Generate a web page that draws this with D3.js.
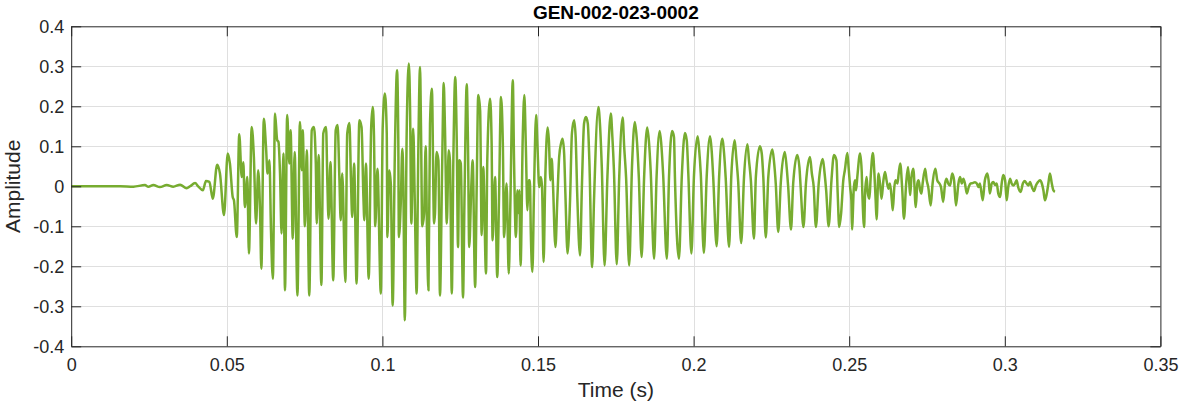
<!DOCTYPE html>
<html>
<head>
<meta charset="utf-8">
<script src="https://cdn.jsdelivr.net/npm/d3@7/dist/d3.min.js"></script>
<style>
  html, body { margin: 0; padding: 0; background: #ffffff; }
  svg { display: block; font-family: "Liberation Sans", Arial, Helvetica, sans-serif; }
</style>
</head>
<body>
<svg id="chart" width="1182" height="404"></svg>
<script>
// ---- data ----
const chartTitle = "GEN-002-023-0002";
const xLabel = "Time (s)";
const yLabel = "Amplitude";
const xTicks = [0, 0.05, 0.1, 0.15, 0.2, 0.25, 0.3, 0.35];
const xTickLabels = ["0", "0.05", "0.1", "0.15", "0.2", "0.25", "0.3", "0.35"];
const yTicks = [-0.4, -0.3, -0.2, -0.1, 0, 0.1, 0.2, 0.3, 0.4];
const yTickLabels = ["-0.4", "-0.3", "-0.2", "-0.1", "0", "0.1", "0.2", "0.3", "0.4"];

// waveform: time (s) and amplitude, traced peak by peak
const time = [
  0, 0.0157, 0.0200, 0.0237, 0.0248, 0.0264, 0.0285, 0.0307, 0.0328, 0.0350, 0.0371, 0.0382,
  0.0398, 0.0408, 0.0423, 0.0433, 0.0444, 0.0455, 0.0469, 0.0478, 0.0491, 0.0503, 0.0510, 0.0519, 0.0523, 0.0532,
  0.0540, 0.0548, 0.0553, 0.0558, 0.0566, 0.0571, 0.0580, 0.0587, 0.0594, 0.0601, 0.0607, 0.0611, 0.0619, 0.0626,
  0.0631, 0.0637, 0.0642, 0.0648, 0.0655,
  0.0662, 0.0666, 0.0671, 0.0676, 0.0682, 0.0687, 0.0694, 0.0701, 0.0705, 0.0712, 0.0718, 0.0727, 0.0735, 0.0741,
  0.0744, 0.0751, 0.0757, 0.0765, 0.0773, 0.0780, 0.0786, 0.0789, 0.0795, 0.0804, 0.0810, 0.0819, 0.0823, 0.0827,
  0.0833, 0.0842, 0.0850, 0.0856, 0.0862, 0.0866, 0.0871, 0.0881, 0.0887, 0.0894, 0.0899, 0.0903, 0.0909,
  0.0917, 0.0926, 0.0933, 0.0939, 0.0942, 0.0947, 0.0956, 0.0964, 0.0969, 0.0973, 0.0977, 0.0984, 0.0995, 0.1001,
  0.1008, 0.1014, 0.1016, 0.1022, 0.1027, 0.1033, 0.1040, 0.1047, 0.1051, 0.1053, 0.1059, 0.1064, 0.1067, 0.1072,
  0.1078, 0.1085, 0.1089, 0.1093, 0.1099, 0.1104, 0.1110, 0.1115, 0.1121, 0.1124, 0.1128, 0.1134, 0.1139, 0.1144,
  0.1148, 0.1153, 0.1159, 0.1166,
  0.1169, 0.1174, 0.1180, 0.1185, 0.1192, 0.1197, 0.1201, 0.1207, 0.1213, 0.1217, 0.1223, 0.1228, 0.1234, 0.1239,
  0.1243, 0.1247, 0.1252, 0.1259, 0.1264, 0.1271, 0.1275, 0.1279, 0.1286, 0.1290, 0.1298, 0.1303, 0.1308, 0.1314,
  0.1319, 0.1324, 0.1333, 0.1337, 0.1346, 0.1351, 0.1354, 0.1362, 0.1369, 0.1375, 0.1381, 0.1387, 0.1391, 0.1399,
  0.1406, 0.1411, 0.1419,
  0.1423, 0.1429, 0.1434, 0.1438, 0.1440, 0.1444, 0.1451, 0.1456, 0.1461, 0.1466, 0.1470, 0.1474, 0.1477, 0.1482,
  0.1487, 0.1494, 0.1498, 0.1504, 0.1509, 0.1513, 0.1518, 0.1523, 0.1531, 0.1535, 0.1540, 0.1544, 0.1548, 0.1556,
  0.1562, 0.1568, 0.1574, 0.1579, 0.1584, 0.1588, 0.1595, 0.1603, 0.1609, 0.1616, 0.1621, 0.1626, 0.1635, 0.1641,
  0.1648, 0.1654, 0.1660, 0.1665, 0.1674, 0.1680,
  0.1694, 0.1699, 0.1705, 0.1714, 0.1723, 0.1734, 0.1739, 0.1744, 0.1753, 0.1761, 0.1772, 0.1777, 0.1783, 0.1793,
  0.1802, 0.1811, 0.1817, 0.1824, 0.1833, 0.1841, 0.1851, 0.1857, 0.1862, 0.1873, 0.1881, 0.1891, 0.1896, 0.1902,
  0.1914, 0.1921, 0.1931, 0.1937,
  0.1940, 0.1953, 0.1962, 0.1972, 0.1978, 0.1983, 0.1993, 0.2001, 0.2013, 0.2018, 0.2023, 0.2033, 0.2042, 0.2053,
  0.2058, 0.2063, 0.2074, 0.2082, 0.2092, 0.2098, 0.2103, 0.2114, 0.2121, 0.2132, 0.2137, 0.2143, 0.2153, 0.2162,
  0.2173, 0.2178, 0.2184, 0.2194,
  0.2200, 0.2213, 0.2219, 0.2224, 0.2232, 0.2240, 0.2253, 0.2258, 0.2264, 0.2272, 0.2280, 0.2293, 0.2299, 0.2304,
  0.2313, 0.2320, 0.2333, 0.2340, 0.2344, 0.2353, 0.2361, 0.2374, 0.2380, 0.2386, 0.2393, 0.2402, 0.2415, 0.2421,
  0.2426, 0.2434, 0.2443, 0.2451, 0.2459,
  0.2463, 0.2468, 0.2474, 0.2481, 0.2486, 0.2494, 0.2498, 0.2503, 0.2507, 0.2509, 0.2515, 0.2519, 0.2522, 0.2526,
  0.2535, 0.2540, 0.2543, 0.2548, 0.2551, 0.2556, 0.2560, 0.2565, 0.2569, 0.2576, 0.2581, 0.2585, 0.2588, 0.2594,
  0.2599, 0.2604, 0.2610, 0.2615, 0.2620, 0.2626, 0.2631, 0.2637, 0.2640, 0.2645, 0.2649, 0.2655, 0.2659, 0.2664,
  0.2670, 0.2676, 0.2683, 0.2689, 0.2693, 0.2696, 0.2700, 0.2706,
  0.2714, 0.2719, 0.2723, 0.2728, 0.2732, 0.2736, 0.2744, 0.2749, 0.2754, 0.2762, 0.2768, 0.2777, 0.2783, 0.2790,
  0.2795, 0.2802, 0.2808, 0.2813, 0.2818, 0.2824, 0.2831, 0.2837, 0.2843, 0.2851, 0.2856, 0.2862, 0.2867, 0.2872,
  0.2878, 0.2884, 0.2890, 0.2897, 0.2904, 0.2910, 0.2916, 0.2920, 0.2929, 0.2936, 0.2944, 0.2948, 0.2952, 0.2958,
  0.2963, 0.2969, 0.2974, 0.2979, 0.2985, 0.2990, 0.2995, 0.3001, 0.3006, 0.3011, 0.3017, 0.3022, 0.3027, 0.3033,
  0.3038, 0.3043, 0.3051, 0.3058, 0.3064, 0.3070, 0.3076, 0.3081, 0.3087, 0.3094, 0.3100, 0.3107, 0.3113, 0.3119,
  0.3124, 0.3129, 0.3135, 0.3140, 0.3145, 0.3151, 0.3156, 0.3161
];
const amplitude = [
  0, 0, -0.001, 0.003, -0.001, 0.003, -0.002, 0.003, -0.001, 0.004, -0.005, 0,
  0.008, 0.0, -0.010, 0.013, 0.011, -0.031, 0.054, 0.032, -0.072, 0.082, 0.057, -0.027, -0.035, -0.127,
  0.130, 0.023, 0.060, -0.052, 0.023, -0.168, 0.148, 0.073, -0.093, 0.040, -0.068, -0.206, 0.169, 0.098,
  0.032, 0.065, -0.110, -0.231, 0.182,
  0.115, 0.111, 0.032, -0.118, 0.082, -0.260, 0.178, 0.057, 0.140, -0.131, 0.086, -0.273, 0.161, 0.040,
  0.140, -0.100, 0.090, -0.273, 0.140, 0.148, 0.057, -0.093, 0.078, -0.247, 0.132, 0.148, 0.015, -0.081,
  0.061, -0.235, 0.140, 0.153, 0.015, -0.085, 0.032, -0.239, 0.132, 0.158, 0.015, -0.077, 0.057,
  -0.243, 0.165, 0.148, -0.027, -0.085, 0.057, -0.231, 0.148, 0.198, 0.123, -0.100, 0.044, -0.268, 0.148,
  0.232, 0.132, -0.127, 0.040, 0.007, -0.298, 0.082, 0.290, 0.123, -0.127, -0.043, 0.094, 0.023, -0.335,
  0.132, 0.307, 0.190, -0.093, 0.144, -0.035, -0.268, 0.065, 0.298, 0.148, -0.100, -0.068, 0.100, -0.152,
  -0.260, 0.157, 0.244, -0.093,
  -0.068, 0.086, 0.065, -0.273, 0.048, 0.258, 0.148, -0.093, 0.090, 0.065, -0.268, 0.065, 0.273, 0.107,
  -0.152, 0.065, 0.057, -0.278, -0.018, 0.255, 0.107, -0.152, 0.007, 0.065, -0.252, -0.002, 0.228, 0.190,
  -0.122, 0.048, -0.218, 0.065, 0.219, 0.107, -0.135, 0.023, -0.227, -0.018, 0.223, 0.107, -0.127, 0.007,
  -0.218, -0.052, 0.265,
  0.065, -0.127, -0.010, -0.068, -0.010, -0.198, 0.123, 0.228, 0.098, -0.060, 0.015, 0.015, -0.118, -0.214,
  -0.018, 0.178, 0.107, -0.002, 0.023, -0.002, -0.189, 0.007, 0.147, 0.115, 0.015, 0.069, 0.007, -0.152,
  -0.035, 0.073, 0.107, 0.119, 0.082, -0.018, -0.168, -0.035, 0.132, 0.165, 0.123, -0.018, -0.173, -0.002,
  0.157, 0.173, 0.157, 0.065, -0.202, -0.035,
  0.198, 0.157, 0.048, -0.198, 0.023, 0.182, 0.123, 0.040, -0.195, 0.023, 0.172, 0.098, 0.023, -0.198,
  0.048, 0.161, 0.123, 0.023, -0.177, 0.023, 0.147, 0.107, 0.040, -0.181, 0.023, 0.138, 0.107, 0.032,
  -0.181, 0.023, 0.138, 0.123,
  0.023, -0.181, 0.023, 0.133, 0.115, 0.032, -0.168, 0.023, 0.125, 0.090, 0.032, -0.167, 0.023, 0.125,
  0.090, 0.023, -0.150, 0.023, 0.119, 0.082, 0.023, -0.152, 0.023, 0.115, 0.073, 0.015, -0.142, 0.023,
  0.105, 0.065, 0.015, -0.131,
  0.023, 0.100, 0.082, 0.023, -0.128, 0.023, 0.092, 0.065, 0.007, -0.114, 0.007, 0.086, 0.048, -0.002,
  -0.108, 0.007, 0.078, 0.048, -0.002, -0.102, 0.007, 0.073, 0.032, -0.002, -0.102, 0.007, 0.068, 0.032,
  -0.010, -0.100, 0.015, 0.078, 0.065,
  -0.018, -0.102, -0.068, 0.015, 0.040, 0.083, 0.048, -0.002, -0.035, -0.108, -0.002, 0.015, -0.010, 0.023,
  0.082, 0.040, -0.035, -0.102, -0.018, 0.023, -0.018, -0.031, 0.023, 0.083, 0.032, -0.035, -0.083, 0.032,
  0.007, -0.031, 0.015, 0.036, 0.015, -0.006, 0.007, -0.035, -0.060, -0.002, 0.015, 0.007, 0.032, 0.057,
  -0.002, -0.081, 0.007, 0.048, 0.007, -0.022, 0.023, 0.044,
  -0.052, 0.007, 0.015, -0.010, -0.018, 0.007, 0.044, 0.015, -0.002, -0.048, 0.007, 0.044, 0.015, 0.007,
  -0.002, -0.039, 0.007, 0.019, 0.007, 0.002, 0.032, 0.015, -0.048, 0.007, 0.023, 0.007, 0.019, 0.007,
  -0.018, -0.002, 0.007, 0.008, 0.010, 0.007, -0.002, 0.007, -0.035, 0.015, 0.032, 0.015, -0.018, 0.007,
  0.011, 0.003, 0.007, -0.018, -0.027, 0.007, 0.028, 0.015, -0.035, -0.002, 0.019, 0.007, 0.002, 0.007,
  0.015, -0.002, -0.014, 0.007, 0.013, 0.007, 0.002, 0.011, -0.002, -0.012, 0.002, 0.011, 0.015, 0.007,
  -0.010, -0.035, -0.018, 0.007, 0.032, 0.007, -0.010, -0.014
];

// ---- layout ----
const W = 1182, H = 404;
const plotLeft = 71.2, plotRight = 1160.4, plotTop = 26.3, plotBottom = 346.3;
const axisColor = "#262626";
const gridColor = "#dfdfdf";
const lineColor = "#77AC30";
const fontFamily = '"Liberation Sans", Arial, Helvetica, sans-serif';

const svg = d3.select("#chart");
svg.append("rect").attr("width", W).attr("height", H).attr("fill", "#ffffff");

const x = d3.scaleLinear().domain([0, 0.35]).range([plotLeft, plotRight]);
const y = d3.scaleLinear().domain([-0.4, 0.4]).range([plotBottom, plotTop]);

// grid
const grid = svg.append("g");
grid.selectAll("line.gx").data(xTicks.slice(1, -1)).enter().append("line")
  .attr("x1", d => Math.round(x(d)) + 0.5).attr("x2", d => Math.round(x(d)) + 0.5)
  .attr("y1", plotTop).attr("y2", plotBottom)
  .attr("stroke", gridColor).attr("stroke-width", 1);
grid.selectAll("line.gy").data(yTicks.slice(1, -1)).enter().append("line")
  .attr("y1", d => Math.round(y(d)) + 0.5).attr("y2", d => Math.round(y(d)) + 0.5)
  .attr("x1", plotLeft).attr("x2", plotRight)
  .attr("stroke", gridColor).attr("stroke-width", 1);

// waveform
const pts = time.map((t, i) => [t, amplitude[i]]);
const line = d3.line().x(d => x(d[0])).y(d => y(d[1])).curve(d3.curveMonotoneX);
svg.append("path").datum(pts)
  .attr("d", line)
  .attr("fill", "none")
  .attr("stroke", lineColor)
  .attr("stroke-width", 2.5)
  .attr("stroke-linejoin", "round");

// axes with inward ticks (box style)
const tickLen = 10;
const fmtX = d => xTickLabels[xTicks.indexOf(d)];
const fmtY = d => yTickLabels[yTicks.indexOf(d)];

const gBottom = svg.append("g").attr("transform", `translate(0,${plotBottom})`)
  .call(d3.axisBottom(x).tickValues(xTicks).tickFormat(fmtX).tickSizeInner(-tickLen).tickSizeOuter(0).tickPadding(12));
const gTop = svg.append("g").attr("transform", `translate(0,${plotTop})`)
  .call(d3.axisTop(x).tickValues(xTicks).tickFormat("").tickSizeInner(-tickLen).tickSizeOuter(0));
const gLeft = svg.append("g").attr("transform", `translate(${plotLeft},0)`)
  .call(d3.axisLeft(y).tickValues(yTicks).tickFormat(fmtY).tickSizeInner(-tickLen).tickSizeOuter(0).tickPadding(7));
const gRight = svg.append("g").attr("transform", `translate(${plotRight},0)`)
  .call(d3.axisRight(y).tickValues(yTicks).tickFormat("").tickSizeInner(-tickLen).tickSizeOuter(0));

[gBottom, gTop, gLeft, gRight].forEach(g => {
  g.select(".domain").attr("stroke", axisColor).attr("stroke-width", 1);
  g.selectAll(".tick line").attr("stroke", axisColor).attr("stroke-width", 1);
  g.selectAll(".tick text").attr("fill", axisColor).style("font-size", "18px")
    .style("font-family", fontFamily);
});

// title & labels
svg.append("text")
  .attr("x", (plotLeft + plotRight) / 2).attr("y", 19)
  .attr("text-anchor", "middle")
  .attr("font-size", 19).attr("font-weight", "bold").attr("fill", "#000")
  .text(chartTitle);
svg.append("text")
  .attr("x", (plotLeft + plotRight) / 2).attr("y", 397)
  .attr("text-anchor", "middle")
  .attr("font-size", 21).attr("fill", axisColor)
  .text(xLabel);
svg.append("text")
  .attr("transform", `translate(20,${(plotTop + plotBottom) / 2}) rotate(-90)`)
  .attr("text-anchor", "middle")
  .attr("font-size", 21).attr("fill", axisColor)
  .text(yLabel);
</script>
</body>
</html>
